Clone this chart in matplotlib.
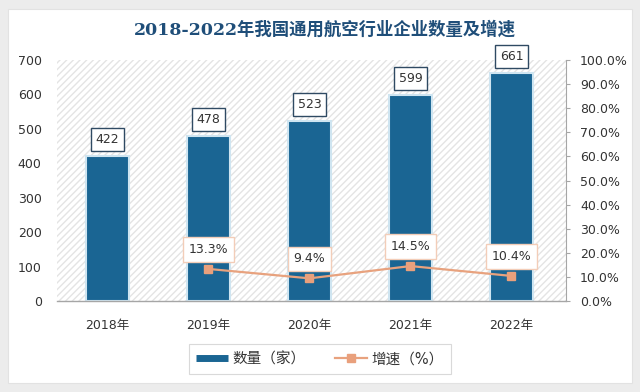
import matplotlib
matplotlib.use("Agg")
import matplotlib.pyplot as plt
from matplotlib.patches import FancyBboxPatch, Rectangle
from matplotlib.lines import Line2D
from matplotlib.ticker import FuncFormatter

plt.rcParams['font.family'] = ['DejaVu Sans', 'Noto Sans CJK SC']

# data
years = ['2018年', '2019年', '2020年', '2021年', '2022年']
counts = [422, 478, 523, 599, 661]
growth_years = [1, 2, 3, 4]
growth = [13.3, 9.4, 14.5, 10.4]

bar_color = '#1a6593'
line_color = '#e8a27e'
text_color = '#333333'

fig = plt.figure(figsize=(6.4, 3.92), dpi=100, facecolor='#ececec')

# white card behind the chart
card = FancyBboxPatch((8 / 640, 9 / 392), 624 / 640, 374 / 392,
                      boxstyle='square,pad=0', transform=fig.transFigure,
                      facecolor='white', edgecolor='#e2e2e2', linewidth=0.8,
                      zorder=-10)
fig.patches.append(card)

ax = fig.add_axes([57 / 640, 1 - 301 / 392, 509 / 640, 241 / 392])
ax.set_facecolor('none')

# hatched plot background
bg = Rectangle((0, 0), 1, 1, transform=ax.transAxes, facecolor='white',
               edgecolor='#e4e4e4', linewidth=0, hatch='/////', zorder=0)
ax.add_patch(bg)

x = list(range(len(years)))
bars = ax.bar(x, counts, width=0.43, color=bar_color, edgecolor='#cfe5f1',
              linewidth=1.5, zorder=2)

ax.set_xlim(-0.5, 4.54)
ax.set_ylim(0, 700)
ax.set_yticks(range(0, 701, 100))
ax.set_xticks(x)
ax.set_xticklabels(years)
ax.tick_params(axis='x', length=0, pad=13, labelsize=9, colors=text_color)
ax.tick_params(axis='y', length=0, pad=11, labelsize=9, colors=text_color)
for s in ['top', 'left', 'right']:
    ax.spines[s].set_visible(False)
ax.spines['bottom'].set_color('#a6a6a6')
ax.spines['bottom'].set_linewidth(1)
ax.spines['bottom'].set_zorder(3)

for xi, v in zip(x, counts):
    ax.annotate(str(v), (xi, v), xytext=(0, 12), textcoords='offset points',
                ha='center', va='center', fontsize=9, color=text_color, zorder=5,
                bbox=dict(boxstyle='square,pad=0.4', facecolor='white',
                          edgecolor='#2f4a63', linewidth=1))

ax2 = ax.twinx()
ax2.set_ylim(0, 100)
ax2.set_yticks(range(0, 101, 10))
ax2.yaxis.set_major_formatter(FuncFormatter(lambda v, p: '%.1f%%' % v))
ax2.tick_params(axis='y', direction='out', length=3, width=0.8, color='#a6a6a6',
                pad=7, labelsize=9, labelcolor=text_color)
for s in ['top', 'left', 'bottom']:
    ax2.spines[s].set_visible(False)
ax2.spines['right'].set_color('#a6a6a6')
ax2.set_xlim(-0.5, 4.54)

ax2.plot(growth_years, growth, color=line_color, linewidth=1.6, marker='s',
         markersize=6, markerfacecolor='#e9a07c', markeredgecolor='#e9a07c', zorder=4)
for xi, v in zip(growth_years, growth):
    ax2.annotate('%.1f%%' % v, (xi, v), xytext=(0, 14), textcoords='offset points',
                 ha='center', va='center', fontsize=9, color=text_color, zorder=5,
                 bbox=dict(boxstyle='square,pad=0.45', facecolor='white',
                           edgecolor='#f3cdb8', linewidth=1))

fig.text(325 / 640, 1 - 30 / 392, '2018-2022年我国通用航空行业企业数量及增速',
         ha='center', va='center', fontsize=12.5, fontweight='bold', color='#1f4e79',
         family=['DejaVu Serif', 'Noto Sans CJK SC'])

handles = [Line2D([0], [0], color=bar_color, linewidth=5, solid_capstyle='butt'),
           Line2D([0], [0], color=line_color, linewidth=1.6, marker='s', markersize=6,
                  markerfacecolor='#e9a07c', markeredgecolor='#e9a07c')]
leg = fig.legend(handles, ['数量（家）', '增速（%）'], loc='center',
                 bbox_to_anchor=(320 / 640, 1 - 359 / 392), ncol=2, frameon=True,
                 fancybox=False, edgecolor='#d0d0d0', fontsize=10.5,
                 handlelength=2.2, handletextpad=0.3, columnspacing=2.0,
                 borderpad=0.5)
leg.get_frame().set_linewidth(0.8)
for t in leg.get_texts():
    t.set_color(text_color)

fig.savefig('out.png', dpi=100, facecolor=fig.get_facecolor())
